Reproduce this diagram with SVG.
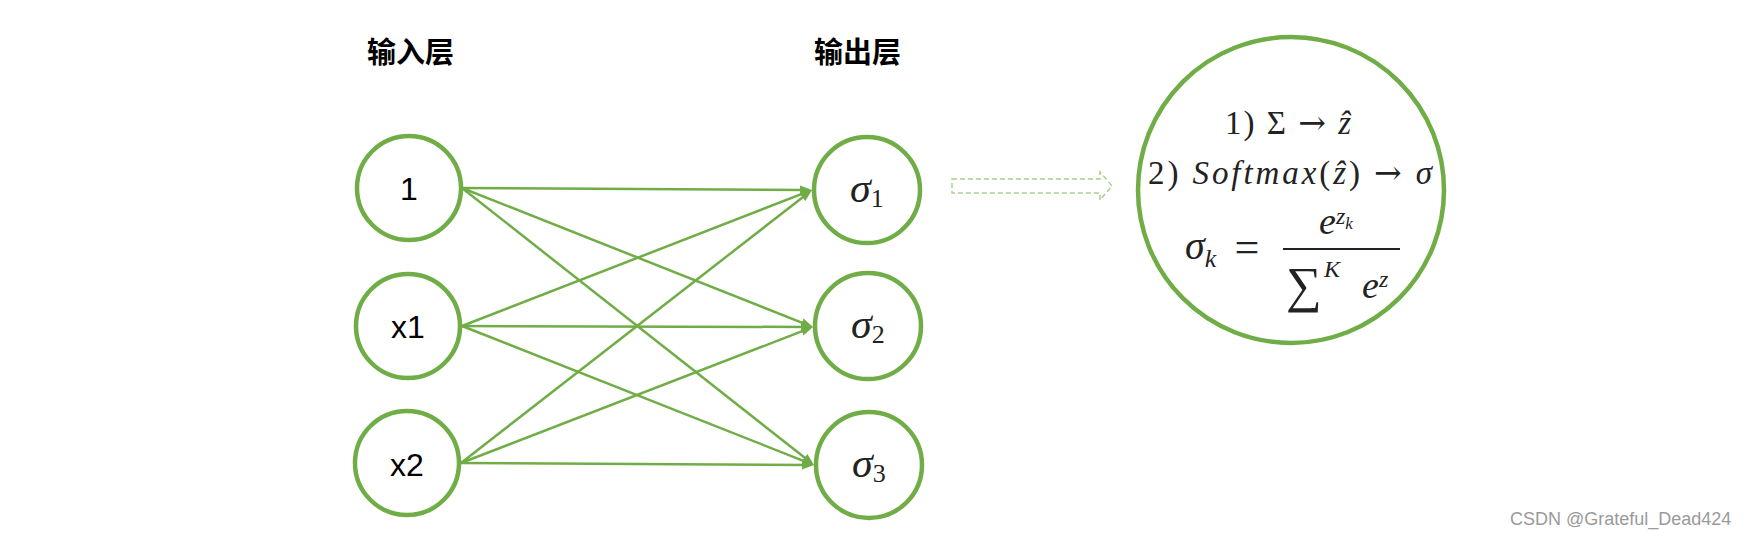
<svg xmlns="http://www.w3.org/2000/svg" width="1757" height="538" viewBox="0 0 1757 538">
  <style>
    .node { fill: #ffffff; stroke: #70AD47; stroke-width: 4.5; }
    .edge { stroke: #70AD47; stroke-width: 2.5; fill: none; marker-end: url(#ah); }
    .lbl { font-family: "Liberation Sans", "Noto Sans", sans-serif; font-size: 32px; fill: #000; text-anchor: middle; }
    .head { font-family: "Noto Sans CJK SC", sans-serif; font-size: 29px; font-weight: bold; fill: #000; }
    .m { font-family: "Liberation Serif", "DejaVu Serif", serif; fill: #222; }
    .it { font-style: italic; }
    .ar { font-family: "DejaVu Serif", serif; font-style: normal; }
    .wm { font-family: "Liberation Sans", sans-serif; font-size: 18px; fill: #9a9a9a; }
  </style>
  <defs>
    <marker id="ah" markerUnits="userSpaceOnUse" markerWidth="12" markerHeight="10" refX="6" refY="4.5" orient="auto" viewBox="0 0 12 9">
      <path d="M0,0 L12,4.5 L0,9 Z" fill="#70AD47"/>
    </marker>
  </defs>
  <rect width="1757" height="538" fill="#ffffff"/>

  <g id="title-input"><text class="head" x="367" y="63">输入层</text></g>
  <g id="title-output"><text class="head" x="814" y="63">输出层</text></g>

  <g id="connectors">
    <line class="edge" x1="462" y1="188" x2="806" y2="190"/>
    <line class="edge" x1="462" y1="188" x2="807.4" y2="324.8"/>
    <line class="edge" x1="462" y1="188" x2="809.3" y2="461.3"/>
    <line class="edge" x1="462" y1="326" x2="806.4" y2="192.2"/>
    <line class="edge" x1="462" y1="326" x2="807" y2="327"/>
    <line class="edge" x1="462" y1="326" x2="808.4" y2="462.8"/>
    <line class="edge" x1="461" y1="463" x2="807.3" y2="193.7"/>
    <line class="edge" x1="461" y1="463" x2="807.4" y2="329.2"/>
    <line class="edge" x1="461" y1="463" x2="808" y2="465"/>
    <path d="M952,179 L1100,179 L1100,172 L1112,186 L1100,200 L1100,193 L952,193 Z" fill="none" stroke="#A9D18E" stroke-width="1.5" stroke-dasharray="5,3"/>
  </g>

  <g id="in-1">
    <circle class="node" cx="409" cy="188" r="52"/>
    <text class="lbl" x="409" y="200">1</text>
  </g>
  <g id="in-x1">
    <circle class="node" cx="408" cy="326" r="52"/>
    <text class="lbl" x="408" y="338">x1</text>
  </g>
  <g id="in-x2">
    <circle class="node" cx="407" cy="463" r="52"/>
    <text class="lbl" x="407" y="476">x2</text>
  </g>

  <g id="out-1">
    <circle class="node" cx="867" cy="190" r="53"/>
    <text class="m" x="850" y="202"><tspan class="it" font-size="42">σ</tspan><tspan font-size="26" dy="5">1</tspan></text>
  </g>
  <g id="out-2">
    <circle class="node" cx="868" cy="326" r="53"/>
    <text class="m" x="851" y="338"><tspan class="it" font-size="42">σ</tspan><tspan font-size="26" dy="5">2</tspan></text>
  </g>
  <g id="out-3">
    <circle class="node" cx="869" cy="465" r="53"/>
    <text class="m" x="852" y="477"><tspan class="it" font-size="42">σ</tspan><tspan font-size="26" dy="5">3</tspan></text>
  </g>

  <g id="softmax">
    <circle class="node" cx="1291" cy="190" r="153"/>
    <text class="m" x="1225" y="134" font-size="33" textLength="126" lengthAdjust="spacing">1) Σ <tspan class="ar">→</tspan> <tspan class="it">ẑ</tspan></text>
    <text class="m" x="1148" y="184" font-size="33" textLength="284" lengthAdjust="spacing">2) <tspan class="it">Softmax</tspan>(<tspan class="it">ẑ</tspan>) <tspan class="ar">→</tspan> <tspan class="it">σ</tspan></text>
    <text class="m it" x="1185" y="259" font-size="40">σ<tspan font-size="26" dy="8">k</tspan></text>
    <text class="m" x="1247" y="262" font-size="44" text-anchor="middle" font-family="DejaVu Serif, serif">=</text>
    <line x1="1283" y1="249" x2="1400" y2="249" stroke="#222" stroke-width="2"/>
    <text class="m it" x="1319" y="234" font-size="38">e<tspan font-size="24" dy="-10">z</tspan><tspan font-size="17" dy="5">k</tspan></text>
    <text class="m" x="1286" y="302" font-size="50" font-family="DejaVu Serif, serif">∑</text>
    <text class="m it" x="1324" y="277" font-size="24">K</text>
    <text class="m it" x="1362" y="298" font-size="38">e<tspan font-size="24" dy="-11">z</tspan></text>
  </g>

  <text class="wm" x="1510" y="525">CSDN @Grateful_Dead424</text>
</svg>
